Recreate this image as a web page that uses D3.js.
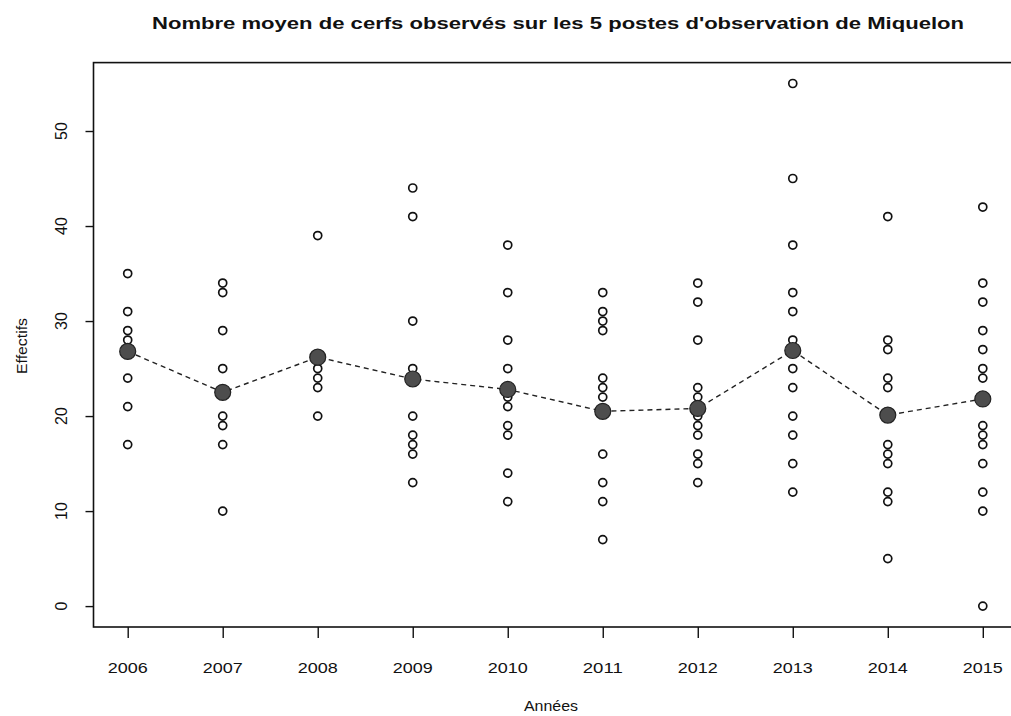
<!DOCTYPE html>
<html>
<head>
<meta charset="utf-8">
<script src="https://cdn.jsdelivr.net/npm/d3@7"></script>
<style>
  body { margin: 0; background: #fff; }
  text { font-family: "Liberation Sans", Arial, sans-serif; fill: #111; }
</style>
</head>
<body>
<svg id="mainChart" width="1011" height="716"></svg>
<script>
//years on the x axis
var years = [2006, 2007, 2008, 2009, 2010, 2011, 2012, 2013, 2014, 2015];

//counts seen at each post, one list per year
var obs2006 = [35, 31, 29, 28, 24, 21, 17];
var obs2007 = [34, 33, 29, 25, 20, 19, 17, 10];
var obs2008 = [39, 25, 24, 23, 20];
var obs2009 = [44, 41, 30, 25, 20, 18, 17, 16, 13];
var obs2010 = [38, 33, 28, 25, 22, 21, 19, 18, 14, 11];
var obs2011 = [33, 31, 30, 29, 24, 23, 22, 16, 13, 11, 7];
var obs2012 = [34, 32, 28, 23, 22, 20, 19, 18, 16, 15, 13];
var obs2013 = [55, 45, 38, 33, 31, 28, 25, 23, 20, 18, 15, 12];
var obs2014 = [41, 28, 27, 24, 23, 17, 16, 15, 12, 11, 5];
var obs2015 = [42, 34, 32, 29, 27, 25, 24, 19, 18, 17, 15, 12, 10, 0];
var observations = [obs2006, obs2007, obs2008, obs2009, obs2010,
                    obs2011, obs2012, obs2013, obs2014, obs2015];

//yearly means (big dots)
var means = [26.8, 22.5, 26.2, 23.9, 22.8, 20.5, 20.8, 26.9, 20.1, 21.8];

var yTicks = [0, 10, 20, 30, 40, 50];

var svg = d3.select("#mainChart");

//plot box (right edge runs past the picture)
var boxLeft = 93.5, boxRight = 1017, boxTop = 62.6, boxBottom = 627;

//R style 4% padding on both axes
var x = d3.scaleLinear().domain([2005.64, 2015.36]).range([boxLeft, boxRight]);
var y = d3.scaleLinear().domain([-2.2, 57.2]).range([boxBottom, boxTop]);

//frame
svg.append("rect")
    .attr("x", boxLeft)
    .attr("y", boxTop)
    .attr("width", boxRight - boxLeft)
    .attr("height", boxBottom - boxTop)
    .attr("fill", "none")
    .attr("stroke", "#111")
    .attr("stroke-width", 1.6);

//y axis, labels turned like R does
var yAxis = svg.append("g")
    .attr("transform", "translate(" + boxLeft + ",0)")
    .call(d3.axisLeft(y).tickValues(yTicks).tickSize(8).tickFormat(""));
yAxis.select(".domain").remove();
yAxis.selectAll("line").attr("stroke", "#111").attr("stroke-width", 1.4);

svg.append("g").selectAll("text")
    .data(yTicks)
    .enter()
    .append("text")
    .attr("transform", function(d) { return "translate(67," + y(d) + ") rotate(-90)"; })
    .attr("text-anchor", "middle")
    .attr("font-size", 16)
    .text(function(d) { return d; });

//x axis
var xAxis = svg.append("g")
    .attr("transform", "translate(0," + boxBottom + ")")
    .call(d3.axisBottom(x).tickValues(years).tickSize(11).tickFormat(""));
xAxis.select(".domain").remove();
xAxis.selectAll("line").attr("stroke", "#111").attr("stroke-width", 1.4);

svg.append("g").selectAll("text")
    .data(years)
    .enter()
    .append("text")
    .attr("x", function(d) { return x(d); })
    .attr("y", 673)
    .attr("text-anchor", "middle")
    .attr("font-size", 15)
    .attr("textLength", 40)
    .attr("lengthAdjust", "spacingAndGlyphs")
    .text(function(d) { return d; });

//titles
svg.append("text")
    .attr("x", 558)
    .attr("y", 29)
    .attr("text-anchor", "middle")
    .attr("font-size", 17)
    .attr("font-weight", "bold")
    .attr("textLength", 812)
    .attr("lengthAdjust", "spacingAndGlyphs")
    .text("Nombre moyen de cerfs observés sur les 5 postes d'observation de Miquelon");

svg.append("text")
    .attr("x", 551)
    .attr("y", 711)
    .attr("text-anchor", "middle")
    .attr("font-size", 14)
    .attr("textLength", 54)
    .attr("lengthAdjust", "spacingAndGlyphs")
    .text("Années");

svg.append("text")
    .attr("transform", "translate(27,346) rotate(-90)")
    .attr("text-anchor", "middle")
    .attr("font-size", 14)
    .attr("textLength", 56)
    .attr("lengthAdjust", "spacingAndGlyphs")
    .text("Effectifs");

//open circles for every post
var points = [];
observations.forEach(function(list, i) {
    list.forEach(function(v) { points.push({year: years[i], value: v}); });
});

svg.append("g").selectAll("circle")
    .data(points)
    .enter()
    .append("circle")
    .attr("cx", function(d) { return x(d.year); })
    .attr("cy", function(d) { return y(d.value); })
    .attr("r", 4)
    .attr("fill", "none")
    .attr("stroke", "#111")
    .attr("stroke-width", 1.7);

//dashed line through the means
var line = d3.line()
    .x(function(d, i) { return x(years[i]); })
    .y(function(d) { return y(d); });

svg.append("path")
    .datum(means)
    .attr("d", line)
    .attr("fill", "none")
    .attr("stroke", "#222")
    .attr("stroke-width", 1.4)
    .attr("stroke-dasharray", "5,4");

svg.append("g").selectAll("circle")
    .data(means)
    .enter()
    .append("circle")
    .attr("cx", function(d, i) { return x(years[i]); })
    .attr("cy", function(d) { return y(d); })
    .attr("r", 8)
    .attr("fill", "#4d4d4d")
    .attr("stroke", "#222")
    .attr("stroke-width", 1.2);
</script>
</body>
</html>
